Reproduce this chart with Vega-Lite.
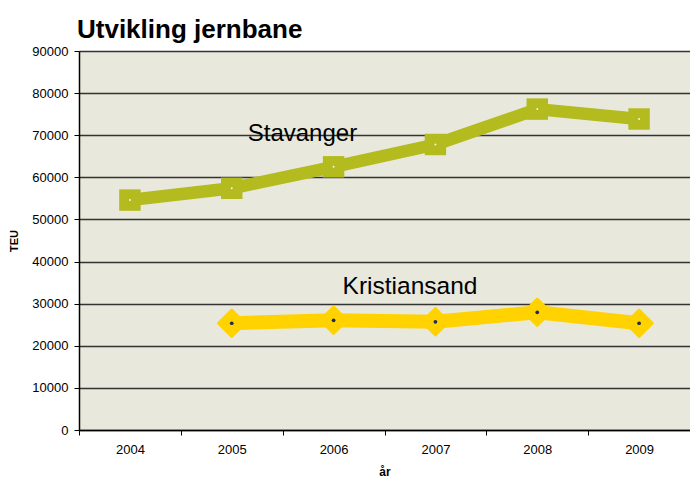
{
  "$schema": "https://vega.github.io/schema/vega-lite/v6.json",
  "autosize": {"type": "none"},
  "width": 611,
  "height": 379,
  "padding": {"left": 79, "top": 51, "right": 0, "bottom": 48},
  "background": "white",
  "title": {
    "text": "Utvikling jernbane",
    "anchor": "start",
    "frame": "group",
    "font": "Liberation Sans",
    "fontSize": 26,
    "fontWeight": "bold",
    "color": "#000000",
    "baseline": "alphabetic",
    "dx": -2,
    "dy": 27,
    "offset": 8
  },
  "config": {
    "view": {"fill": "#E8E9DC", "stroke": null},
    "font": "Liberation Sans"
  },
  "datasets": {
    "series": [
      {"series": "Stavanger", "year": "2004", "teu": 54600},
      {"series": "Stavanger", "year": "2005", "teu": 57400},
      {"series": "Stavanger", "year": "2006", "teu": 62500},
      {"series": "Stavanger", "year": "2007", "teu": 67800},
      {"series": "Stavanger", "year": "2008", "teu": 76200},
      {"series": "Stavanger", "year": "2009", "teu": 73850},
      {"series": "Kristiansand", "year": "2005", "teu": 25350},
      {"series": "Kristiansand", "year": "2006", "teu": 26050},
      {"series": "Kristiansand", "year": "2007", "teu": 25700},
      {"series": "Kristiansand", "year": "2008", "teu": 27950},
      {"series": "Kristiansand", "year": "2009", "teu": 25350}
    ],
    "labels": [
      {"label": "Stavanger", "year": "2005", "teu": 68700},
      {"label": "Kristiansand", "year": "2006", "teu": 32300}
    ]
  },
  "encoding": {
    "x": {
      "field": "year",
      "type": "ordinal",
      "scale": {"domain": ["2004", "2005", "2006", "2007", "2008", "2009"], "paddingInner": 0, "paddingOuter": 0},
      "axis": {
        "title": "år",
        "titleFont": "Liberation Sans",
        "titleFontSize": 12,
        "titleFontWeight": "bold",
        "titleColor": "#000000",
        "titlePadding": 10,
        "labelAngle": 0,
        "labelFont": "Liberation Sans",
        "labelFontSize": 13,
        "labelColor": "#000000",
        "labelPadding": 8,
        "tickBand": "extent",
        "tickSize": 5,
        "tickColor": "#000000",
        "domainColor": "#000000",
        "domainWidth": 1.5,
        "grid": false
      }
    },
    "y": {
      "field": "teu",
      "type": "quantitative",
      "scale": {"domain": [0, 90000], "nice": false},
      "axis": {
        "title": "TEU",
        "titleFont": "Liberation Sans",
        "titleFontSize": 11,
        "titleFontWeight": "bold",
        "titleColor": "#000000",
        "titlePadding": 12,
        "values": [0, 10000, 20000, 30000, 40000, 50000, 60000, 70000, 80000, 90000],
        "format": "d",
        "labelFont": "Liberation Sans",
        "labelFontSize": 13,
        "labelColor": "#000000",
        "labelPadding": 6,
        "tickSize": 5,
        "tickColor": "#000000",
        "domainColor": "#000000",
        "domainWidth": 1.5,
        "grid": true,
        "gridColor": "#333333",
        "gridWidth": 1.3
      }
    }
  },
  "layer": [
    {
      "data": {"name": "series"},
      "transform": [{"filter": "datum.series === 'Stavanger'"}],
      "mark": {"type": "line", "strokeWidth": 12.5, "strokeJoin": "round", "color": "#B3BB1E"},
      "encoding": {}
    },
    {
      "data": {"name": "series"},
      "transform": [{"filter": "datum.series === 'Kristiansand'"}],
      "mark": {"type": "line", "strokeWidth": 14, "strokeJoin": "round", "color": "#FFD200"},
      "encoding": {}
    },
    {
      "data": {"name": "series"},
      "transform": [{"filter": "datum.series === 'Stavanger'"}],
      "mark": {"type": "point", "shape": "square", "filled": true, "size": 460, "color": "#B3BB1E", "opacity": 1}
    },
    {
      "data": {"name": "series"},
      "transform": [{"filter": "datum.series === 'Kristiansand'"}],
      "mark": {"type": "point", "shape": "diamond", "filled": true, "size": 760, "color": "#FFD200", "opacity": 1, "stroke": "#FFD200", "strokeWidth": 2, "strokeJoin": "round"}
    },
    {
      "data": {"name": "series"},
      "transform": [{"filter": "datum.series === 'Kristiansand'"}],
      "mark": {"type": "point", "shape": "circle", "filled": true, "size": 14, "color": "#1F2A5A", "opacity": 1}
    },
    {
      "data": {"name": "series"},
      "transform": [{"filter": "datum.series === 'Stavanger'"}],
      "mark": {"type": "point", "shape": "circle", "filled": true, "size": 4, "color": "#F4F4E0", "opacity": 1}
    },
    {
      "data": {"name": "labels"},
      "transform": [{"filter": "datum.label === 'Stavanger'"}],
      "mark": {"type": "text", "align": "left", "baseline": "alphabetic", "dx": 16, "fontSize": 24, "font": "Liberation Sans", "color": "#000000"},
      "encoding": {"text": {"field": "label"}}
    },
    {
      "data": {"name": "labels"},
      "transform": [{"filter": "datum.label === 'Kristiansand'"}],
      "mark": {"type": "text", "align": "left", "baseline": "alphabetic", "dx": 9, "fontSize": 24.5, "font": "Liberation Sans", "color": "#000000"},
      "encoding": {"text": {"field": "label"}}
    }
  ]
}
